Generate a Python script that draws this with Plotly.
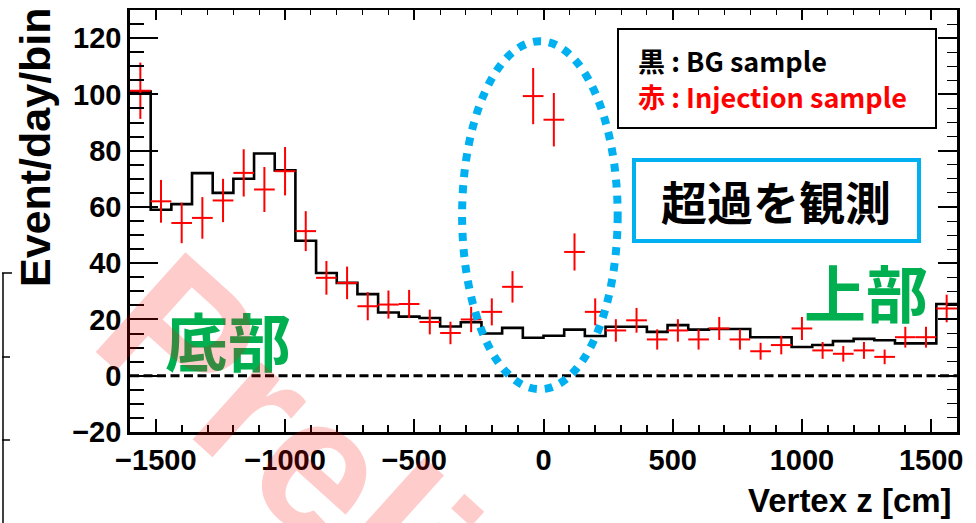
import plotly.graph_objects as go

# ---------------- data ----------------
bin_centers = [-1560, -1480, -1400, -1320, -1240, -1160, -1080, -1000, -920, -840,
               -760, -680, -600, -520, -440, -360, -280, -200, -120, -40,
               40, 120, 200, 280, 360, 440, 520, 600, 680, 760,
               840, 920, 1000, 1080, 1160, 1240, 1320, 1400, 1480, 1560]
bin_half_width = 40

bg_values = [101, 59, 61, 72, 65, 70, 79, 73, 48, 36.5,
             33, 29, 22.5, 21, 20.5, 17.5, 19, 15, 17, 13.5,
             14.2, 16.4, 14.1, 17.4, 17.4, 15.6, 18, 16.4, 16.6, 16.6,
             13.7, 13.7, 10.2, 10.9, 12.3, 13.1, 12.6, 11.5, 11.5, 25.5]

inj_values = [101.3, 62, 54.3, 56.1, 62.3, 72.1, 66.2, 72.7, 51.4, 34.8,
              33, 24.7, 25.3, 25.5, 19.1, 15.2, 20, 22.7, 31.6, 99.4,
              91, 44, 22.7, 16.1, 19.7, 12.9, 16.1, 12.9, 16.8, 12.9,
              8.7, 10.9, 16.8, 9, 7.8, 9, 6.7, 13.7, 13.7, 23.9]

inj_errors = [10, 7.6, 7.2, 7.4, 7.7, 8.4, 8, 8.6, 7.1, 6,
              5.8, 5, 5, 5, 4.4, 4, 4.5, 4.8, 5.6, 10,
              9.5, 6.6, 4.8, 4, 4.4, 3.6, 4, 3.6, 4.1, 3.6,
              3, 3.3, 4.1, 3, 2.8, 3, 2.6, 3.7, 3.7, 4.9]

x_range = [-1600, 1600]
y_range = [-20, 130]
x_tickvals = [-1500, -1000, -500, 0, 500, 1000, 1500]
y_tickvals = [-20, 0, 20, 40, 60, 80, 100, 120]

# ---------------- layout helpers ----------------
W, H = 976, 523
L, R, T, B = 130, 957, 10, 432


def px(X):
    return (X - L) / (R - L)


def py(Y):
    return (B - Y) / (B - T)


# histogram edges from bin centers
edges = [c - bin_half_width for c in bin_centers] + [bin_centers[-1] + bin_half_width]
bg_step = bg_values + [bg_values[-1]]

fig = go.Figure()

fig.add_trace(go.Scatter(
    x=edges, y=bg_step, mode="lines", line=dict(shape="hv", color="black", width=2.6),
    showlegend=False, hoverinfo="skip"))

fig.add_trace(go.Scatter(
    x=bin_centers, y=inj_values, mode="markers",
    marker=dict(size=1, color="red"),
    error_x=dict(type="constant", value=bin_half_width, width=0, thickness=2, color="red"),
    error_y=dict(type="data", array=inj_errors, width=0, thickness=2, color="red"),
    showlegend=False))

# dummy trace for the mirrored axes
fig.add_trace(go.Scatter(x=[None], y=[None], xaxis="x2", yaxis="y2", showlegend=False))

tick_font = dict(family="Liberation Sans, Arial, sans-serif", size=29, color="black", weight="bold")

fig.update_layout(
    width=W, height=H,
    margin=dict(l=L, r=W - R, t=T, b=H - B),
    paper_bgcolor="white", plot_bgcolor="white",
    xaxis=dict(range=x_range, tickvals=x_tickvals, ticks="inside", ticklen=13, tickwidth=1.7,
               tickcolor="black", showline=True, linecolor="black", linewidth=2.6,
               showgrid=False, zeroline=False, tickfont=tick_font,
               minor=dict(dtick=100, ticks="inside", ticklen=7, tickwidth=1.5, tickcolor="black",
                          showgrid=False)),
    xaxis2=dict(range=x_range, overlaying="x", side="top", anchor="y2", tickvals=x_tickvals,
                ticks="inside", ticklen=10, tickwidth=1.5, tickcolor="black",
                showline=True, linecolor="black", linewidth=2.2, showticklabels=False,
                showgrid=False, zeroline=False,
                minor=dict(dtick=100, ticks="inside", ticklen=5, tickwidth=1.3, tickcolor="black",
                           showgrid=False)),
    yaxis=dict(range=y_range, tickvals=y_tickvals, ticks="inside", ticklen=28, tickwidth=1.7,
               tickcolor="black", showline=True, linecolor="black", linewidth=2.6,
               showgrid=False, zeroline=False, tickfont=tick_font,
               minor=dict(dtick=5, ticks="inside", ticklen=14, tickwidth=1.5, tickcolor="black",
                          showgrid=False)),
    yaxis2=dict(range=y_range, overlaying="y", side="right", anchor="x2", tickvals=y_tickvals,
                ticks="inside", ticklen=19, tickwidth=1.5, tickcolor="black",
                showline=True, linecolor="black", linewidth=3, showticklabels=False,
                showgrid=False, zeroline=False,
                minor=dict(dtick=5, ticks="inside", ticklen=10, tickwidth=1.3, tickcolor="black",
                           showgrid=False)),
)

shapes = []
# dashed zero line
shapes.append(dict(type="line", xref="x", yref="y", x0=x_range[0], x1=x_range[1], y0=0, y1=0,
                   line=dict(color="black", width=2.8, dash="9px,4.5px")))
# blue dotted ellipse around the excess
shapes.append(dict(type="circle", xref="x", yref="y", x0=-315, x1=287, y0=-4.8, y1=118.9,
                   line=dict(color="#00B0F0", width=8, dash="dot")))
# legend box
shapes.append(dict(type="rect", xref="paper", yref="paper", x0=px(618), x1=px(936),
                   y0=py(128), y1=py(29), line=dict(color="black", width=2), fillcolor="white"))
# blue label box
shapes.append(dict(type="rect", xref="paper", yref="paper", x0=px(634), x1=px(919),
                   y0=py(241), y1=py(160), line=dict(color="#00B0F0", width=4), fillcolor="white"))
# stray frame fragment at the left edge
shapes.append(dict(type="line", xref="paper", yref="paper", x0=px(3), x1=px(3), y0=py(273), y1=py(530),
                   line=dict(color="black", width=1.5)))
for yy, ln in [(273, 10), (357, 8), (440, 8)]:
    shapes.append(dict(type="line", xref="paper", yref="paper", x0=px(2), x1=px(2 + ln), y0=py(yy), y1=py(yy),
                       line=dict(color="black", width=1.5)))
fig.update_layout(shapes=shapes)

cjk = "Noto Sans CJK JP, Noto Sans, sans-serif"
ann = []
ann.append(dict(text="Event/day/bin", xref="paper", yref="paper", x=px(35), y=py(5),
                xanchor="center", yanchor="top", textangle=-90, showarrow=False,
                font=dict(family="Liberation Sans, Arial, sans-serif", size=43, color="black",
                          weight="bold")))
ann.append(dict(text="Vertex z [cm]", xref="paper", yref="paper", x=px(954), y=py(500),
                xanchor="right", yanchor="middle", showarrow=False,
                font=dict(family="Liberation Sans, Arial, sans-serif", size=33, color="black",
                          weight="bold")))
ann.append(dict(text="黒 : BG sample", xref="paper", yref="paper", x=px(636), y=py(60),
                xanchor="left", yanchor="middle", showarrow=False,
                font=dict(family=cjk, size=27, color="black", weight="bold")))
ann.append(dict(text="赤 : Injection sample", xref="paper", yref="paper", x=px(636), y=py(97),
                xanchor="left", yanchor="middle", showarrow=False,
                font=dict(family=cjk, size=27, color="red", weight="bold")))
ann.append(dict(text="超過を観測", xref="paper", yref="paper", x=px(776), y=py(200),
                xanchor="center", yanchor="middle", showarrow=False,
                font=dict(family=cjk, size=46, color="black", weight="bold")))
ann.append(dict(text="底部", xref="paper", yref="paper", x=px(228), y=py(338),
                xanchor="center", yanchor="middle", showarrow=False,
                font=dict(family=cjk, size=63, color="#00B050", weight="bold")))
ann.append(dict(text="上部", xref="paper", yref="paper", x=px(866), y=py(291),
                xanchor="center", yanchor="middle", showarrow=False,
                font=dict(family=cjk, size=62, color="#00B050", weight="bold")))
# watermark
ann.append(dict(text="Preliminary", xref="paper", yref="paper", x=px(526), y=py(648),
                xanchor="center", yanchor="middle", showarrow=False, textangle=42,
                font=dict(family="Liberation Sans, Arial, sans-serif", size=195,
                          color="rgba(255,0,0,0.2)", weight="bold")))
fig.update_layout(annotations=ann)

fig.write_html("out.html", config={"displayModeBar": False},
               post_script="document.body.style.margin='0px';document.body.style.overflow='hidden';")
